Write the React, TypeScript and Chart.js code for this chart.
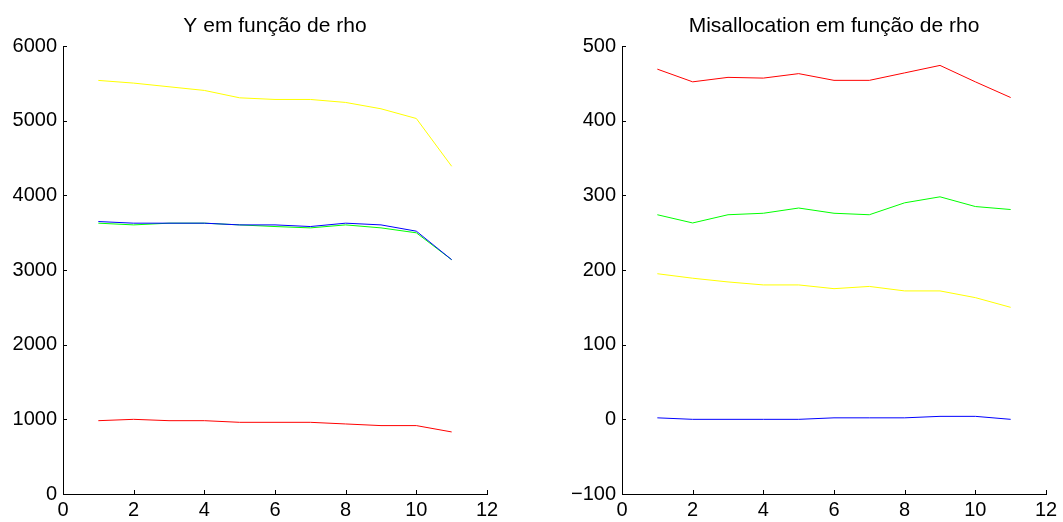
import React, { useEffect, useRef } from "react";
import { Chart, registerables } from "chart.js";

Chart.register(...registerables);

const RHO = [1, 2, 3, 4, 5, 6, 7, 8, 9, 10, 11];

// Left panel: Y em função de rho
const Y_YELLOW = [5539, 5503, 5454, 5405, 5306, 5284, 5284, 5244, 5159, 5029, 4389];
const Y_GREEN = [3627, 3604, 3627, 3627, 3604, 3582, 3564, 3604, 3564, 3498, 3138];
const Y_BLUE = [3649, 3627, 3627, 3627, 3604, 3604, 3582, 3627, 3604, 3520, 3138];
const Y_RED = [982, 1000, 982, 982, 960, 960, 960, 938, 916, 916, 831];

// Right panel: Misallocation em função de rho
const M_RED = [469, 452, 458, 457, 463, 454, 454, 464, 474, 452, 431];
const M_GREEN = [274, 263, 274, 276, 283, 276, 274, 290, 298, 285, 281];
const M_YELLOW = [195, 189, 184, 180, 180, 175, 178, 172, 172, 163, 150];
const M_BLUE = [2, 0, 0, 0, 0, 2, 2, 2, 4, 4, 0];

const TITLE_LEFT = "Y em função de rho";
const TITLE_RIGHT = "Misallocation em função de rho";

const FONT = "'Liberation Sans', Arial, Helvetica, sans-serif";

function pts(ys: number[]) {
  return RHO.map((x, i) => ({ x, y: ys[i] }));
}

function ds(ys: number[], color: string) {
  return {
    data: pts(ys),
    borderColor: color,
    backgroundColor: color,
    borderWidth: 1,
    pointRadius: 0,
    tension: 0,
    fill: false,
  };
}

function makeConfig(
  title: string,
  datasets: any[],
  yMin: number,
  yMax: number,
  yStep: number,
  yAxisWidth: number,
  padLeft: number,
  padRight: number
): any {
  const titlePlugin = {
    id: "matTitle",
    afterDraw(chart: any) {
      const { ctx, chartArea } = chart;
      ctx.save();
      ctx.font = `21px ${FONT}`;
      ctx.fillStyle = "#000";
      ctx.textAlign = "center";
      ctx.textBaseline = "alphabetic";
      ctx.fillText(title, (chartArea.left + chartArea.right) / 2, 32);
      ctx.restore();
    },
  };
  const tickPlugin = {
    id: "inwardTicks",
    afterDraw(chart: any) {
      const { ctx, chartArea, scales } = chart;
      ctx.save();
      ctx.strokeStyle = "#000";
      ctx.lineWidth = 1;
      ctx.beginPath();
      scales.x.ticks.forEach((t: any) => {
        const px = Math.round(scales.x.getPixelForValue(t.value)) + 0.5;
        ctx.moveTo(px, chartArea.bottom);
        ctx.lineTo(px, chartArea.bottom - 4);
      });
      scales.y.ticks.forEach((t: any) => {
        const py = Math.round(scales.y.getPixelForValue(t.value)) + 0.5;
        ctx.moveTo(chartArea.left, py);
        ctx.lineTo(chartArea.left + 4, py);
      });
      ctx.stroke();
      ctx.restore();
    },
  };
  return {
    type: "line",
    data: { datasets },
    options: {
      animation: false,
      responsive: false,
      devicePixelRatio: 1,
      layout: { padding: { top: 46, bottom: 0, left: padLeft, right: padRight } },
      plugins: { legend: { display: false }, tooltip: { enabled: false }, title: { display: false } },
      scales: {
        x: {
          type: "linear",
          min: 0,
          max: 12,
          grid: { display: false, drawTicks: false },
          border: { display: true, color: "#000", width: 1 },
          ticks: {
            stepSize: 2,
            padding: 4,
            color: "#000",
            font: { family: FONT, size: 20 },
            maxRotation: 0,
          },
          afterFit: (s: any) => {
            s.height = 28;
          },
        },
        y: {
          type: "linear",
          min: yMin,
          max: yMax,
          grid: { display: false, drawTicks: false },
          border: { display: true, color: "#000", width: 1 },
          ticks: {
            stepSize: yStep,
            padding: 6,
            color: "#000",
            font: { family: FONT, size: 20 },
            callback: (v: any) => (v < 0 ? "\u2212" + Math.abs(v) : String(v)),
          },
          afterFit: (s: any) => {
            s.width = yAxisWidth;
          },
        },
      },
    },
    plugins: [titlePlugin, tickPlugin],
  };
}

function Panel(props: { left: number; width: number; config: any }) {
  const ref = useRef<HTMLCanvasElement | null>(null);
  useEffect(() => {
    if (!ref.current) return;
    const chart = new Chart(ref.current, props.config);
    return () => chart.destroy();
  }, []);
  return (
    <div style={{ position: "absolute", left: props.left, top: 0, width: props.width, height: 522 }}>
      <canvas ref={ref} width={props.width} height={522} style={{ display: "block" }} />
    </div>
  );
}

export default function App() {
  // Chart.js draws dataset 0 on top, so the blue series comes first.
  const leftCfg = makeConfig(
    TITLE_LEFT,
    [ds(Y_BLUE, "#0000ff"), ds(Y_GREEN, "#00ff00"), ds(Y_YELLOW, "#ffff00"), ds(Y_RED, "#ff0000")],
    0,
    6000,
    1000,
    63,
    0,
    44
  );
  const rightCfg = makeConfig(
    TITLE_RIGHT,
    [ds(M_BLUE, "#0000ff"), ds(M_GREEN, "#00ff00"), ds(M_YELLOW, "#ffff00"), ds(M_RED, "#ff0000")],
    -100,
    500,
    100,
    91,
    0,
    17
  );
  return (
    <div style={{ position: "fixed", left: 0, top: 0, width: 1063, height: 522, background: "#fff" }}>
      <Panel left={0} width={531} config={leftCfg} />
      <Panel left={531} width={532} config={rightCfg} />
    </div>
  );
}
